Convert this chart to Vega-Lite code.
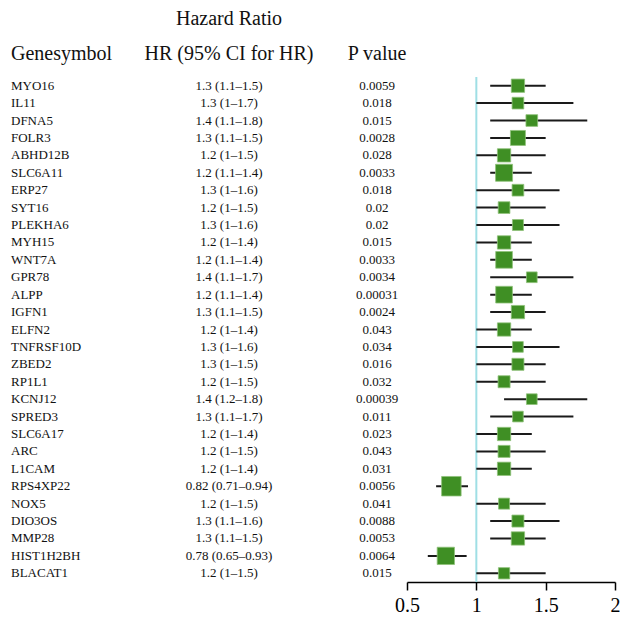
{
  "$schema": "https://vega.github.io/schema/vega-lite/v6.json",
  "padding": {"left": 11, "top": 9, "right": 0, "bottom": 0},
  "background": "white",
  "config": {
    "view": {"stroke": null},
    "font": "Liberation Serif",
    "title": {"font": "Liberation Serif", "fontSize": 20, "fontWeight": "normal", "color": "#111111", "subtitleFont": "Liberation Serif", "subtitleFontSize": 20, "subtitleColor": "#111111", "subtitlePadding": 15, "offset": 13}
  },
  "data": {"values": [
    {"gene": "MYO16", "hr": 1.3, "lo": 1.1, "hi": 1.5, "ci": "1.3 (1.1–1.5)", "p": "0.0059", "weight": 13.3},
    {"gene": "IL11", "hr": 1.3, "lo": 1.0, "hi": 1.7, "ci": "1.3 (1–1.7)", "p": "0.018", "weight": 11.7},
    {"gene": "DFNA5", "hr": 1.4, "lo": 1.1, "hi": 1.8, "ci": "1.4 (1.1–1.8)", "p": "0.015", "weight": 11.7},
    {"gene": "FOLR3", "hr": 1.3, "lo": 1.1, "hi": 1.5, "ci": "1.3 (1.1–1.5)", "p": "0.0028", "weight": 15},
    {"gene": "ABHD12B", "hr": 1.2, "lo": 1.0, "hi": 1.5, "ci": "1.2 (1–1.5)", "p": "0.028", "weight": 13.3},
    {"gene": "SLC6A11", "hr": 1.2, "lo": 1.1, "hi": 1.4, "ci": "1.2 (1.1–1.4)", "p": "0.0033", "weight": 17},
    {"gene": "ERP27", "hr": 1.3, "lo": 1.0, "hi": 1.6, "ci": "1.3 (1–1.6)", "p": "0.018", "weight": 11.7},
    {"gene": "SYT16", "hr": 1.2, "lo": 1.0, "hi": 1.5, "ci": "1.2 (1–1.5)", "p": "0.02", "weight": 11.7},
    {"gene": "PLEKHA6", "hr": 1.3, "lo": 1.0, "hi": 1.6, "ci": "1.3 (1–1.6)", "p": "0.02", "weight": 11},
    {"gene": "MYH15", "hr": 1.2, "lo": 1.0, "hi": 1.4, "ci": "1.2 (1–1.4)", "p": "0.015", "weight": 13.3},
    {"gene": "WNT7A", "hr": 1.2, "lo": 1.1, "hi": 1.4, "ci": "1.2 (1.1–1.4)", "p": "0.0033", "weight": 16.7},
    {"gene": "GPR78", "hr": 1.4, "lo": 1.1, "hi": 1.7, "ci": "1.4 (1.1–1.7)", "p": "0.0034", "weight": 10.7},
    {"gene": "ALPP", "hr": 1.2, "lo": 1.1, "hi": 1.4, "ci": "1.2 (1.1–1.4)", "p": "0.00031", "weight": 16.7},
    {"gene": "IGFN1", "hr": 1.3, "lo": 1.1, "hi": 1.5, "ci": "1.3 (1.1–1.5)", "p": "0.0024", "weight": 13.3},
    {"gene": "ELFN2", "hr": 1.2, "lo": 1.0, "hi": 1.4, "ci": "1.2 (1–1.4)", "p": "0.043", "weight": 13.3},
    {"gene": "TNFRSF10D", "hr": 1.3, "lo": 1.0, "hi": 1.6, "ci": "1.3 (1–1.6)", "p": "0.034", "weight": 10.7},
    {"gene": "ZBED2", "hr": 1.3, "lo": 1.0, "hi": 1.5, "ci": "1.3 (1–1.5)", "p": "0.016", "weight": 12},
    {"gene": "RP1L1", "hr": 1.2, "lo": 1.0, "hi": 1.5, "ci": "1.2 (1–1.5)", "p": "0.032", "weight": 12},
    {"gene": "KCNJ12", "hr": 1.4, "lo": 1.2, "hi": 1.8, "ci": "1.4 (1.2–1.8)", "p": "0.00039", "weight": 10.7},
    {"gene": "SPRED3", "hr": 1.3, "lo": 1.1, "hi": 1.7, "ci": "1.3 (1.1–1.7)", "p": "0.011", "weight": 10.7},
    {"gene": "SLC6A17", "hr": 1.2, "lo": 1.0, "hi": 1.4, "ci": "1.2 (1–1.4)", "p": "0.023", "weight": 13.3},
    {"gene": "ARC", "hr": 1.2, "lo": 1.0, "hi": 1.5, "ci": "1.2 (1–1.5)", "p": "0.043", "weight": 12},
    {"gene": "L1CAM", "hr": 1.2, "lo": 1.0, "hi": 1.4, "ci": "1.2 (1–1.4)", "p": "0.031", "weight": 13.3},
    {"gene": "RPS4XP22", "hr": 0.82, "lo": 0.71, "hi": 0.94, "ci": "0.82 (0.71–0.94)", "p": "0.0056", "weight": 19.5},
    {"gene": "NOX5", "hr": 1.2, "lo": 1.0, "hi": 1.5, "ci": "1.2 (1–1.5)", "p": "0.041", "weight": 11},
    {"gene": "DIO3OS", "hr": 1.3, "lo": 1.1, "hi": 1.6, "ci": "1.3 (1.1–1.6)", "p": "0.0088", "weight": 12},
    {"gene": "MMP28", "hr": 1.3, "lo": 1.1, "hi": 1.5, "ci": "1.3 (1.1–1.5)", "p": "0.0053", "weight": 13.3},
    {"gene": "HIST1H2BH", "hr": 0.78, "lo": 0.65, "hi": 0.93, "ci": "0.78 (0.65–0.93)", "p": "0.0064", "weight": 17.3},
    {"gene": "BLACAT1", "hr": 1.2, "lo": 1.0, "hi": 1.5, "ci": "1.2 (1–1.5)", "p": "0.015", "weight": 11.3}
  ]},
  "spacing": 0,
  "bounds": "flush",
  "hconcat": [
    {
      "width": 100, "height": 505,
      "title": {"text": "Genesymbol", "anchor": "start"},
      "mark": {"type": "text", "align": "left", "baseline": "middle", "fontSize": 13, "font": "Liberation Serif", "color": "#111111"},
      "encoding": {
        "y": {"field": "gene", "type": "nominal", "sort": null, "axis": null, "scale": {"type": "point", "padding": 0.5}},
        "x": {"datum": 0, "type": "quantitative", "scale": {"domain": [0, 1]}, "axis": null},
        "text": {"field": "gene"}
      }
    },
    {
      "width": 236, "height": 505,
      "title": {"text": "Hazard Ratio", "subtitle": "HR (95% CI for HR)", "anchor": "middle"},
      "mark": {"type": "text", "align": "center", "baseline": "middle", "fontSize": 13, "font": "Liberation Serif", "color": "#111111"},
      "encoding": {
        "y": {"field": "gene", "type": "nominal", "sort": null, "axis": null, "scale": {"type": "point", "padding": 0.5}},
        "x": {"datum": 0.5, "type": "quantitative", "scale": {"domain": [0, 1]}, "axis": null},
        "text": {"field": "ci"}
      }
    },
    {
      "width": 60, "height": 505,
      "title": {"text": "P value", "anchor": "middle"},
      "mark": {"type": "text", "align": "center", "baseline": "middle", "fontSize": 13, "font": "Liberation Serif", "color": "#111111"},
      "encoding": {
        "y": {"field": "gene", "type": "nominal", "sort": null, "axis": null, "scale": {"type": "point", "padding": 0.5}},
        "x": {"datum": 0.5, "type": "quantitative", "scale": {"domain": [0, 1]}, "axis": null},
        "text": {"field": "p"}
      }
    },
    {
      "width": 208, "height": 505,
      "layer": [
        {
          "data": {"values": [{"ref": 1}]},
          "mark": {"type": "rule", "color": "#9fdfe5", "strokeWidth": 2},
          "encoding": {
            "x": {"field": "ref", "type": "quantitative"}
          }
        },
        {
          "mark": {"type": "rule", "color": "#1a1a1a", "strokeWidth": 2},
          "encoding": {
            "y": {"field": "gene", "type": "nominal", "sort": null, "axis": null, "scale": {"type": "point", "padding": 0.5}},
            "x": {"field": "lo", "type": "quantitative"},
            "x2": {"field": "hi"}
          }
        },
        {
          "mark": {"type": "point", "shape": "square", "filled": true, "color": "#3f8f24", "opacity": 1, "stroke": "#8fc27a", "strokeWidth": 0.8},
          "encoding": {
            "y": {"field": "gene", "type": "nominal", "sort": null, "axis": null, "scale": {"type": "point", "padding": 0.5}},
            "x": {"field": "hr", "type": "quantitative"},
            "size": {"field": "weight", "type": "quantitative", "legend": null, "scale": {"type": "pow", "exponent": 2, "domain": [0, 20], "range": [0, 400]}}
          }
        }
      ],
      "encoding": {
        "x": {"type": "quantitative", "scale": {"domain": [0.5, 2], "nice": false, "zero": false},
          "axis": {"orient": "bottom", "values": [0.5, 1, 1.5, 2], "title": null, "grid": false, "labelFlush": false, "labelOverlap": false, "domainColor": "#000000", "domainWidth": 1.5, "tickColor": "#000000", "tickWidth": 1.5, "tickSize": 8, "labelFont": "Liberation Serif", "labelFontSize": 20, "labelColor": "#000000", "labelPadding": 5, "format": "~g"}}
      }
    }
  ]
}
